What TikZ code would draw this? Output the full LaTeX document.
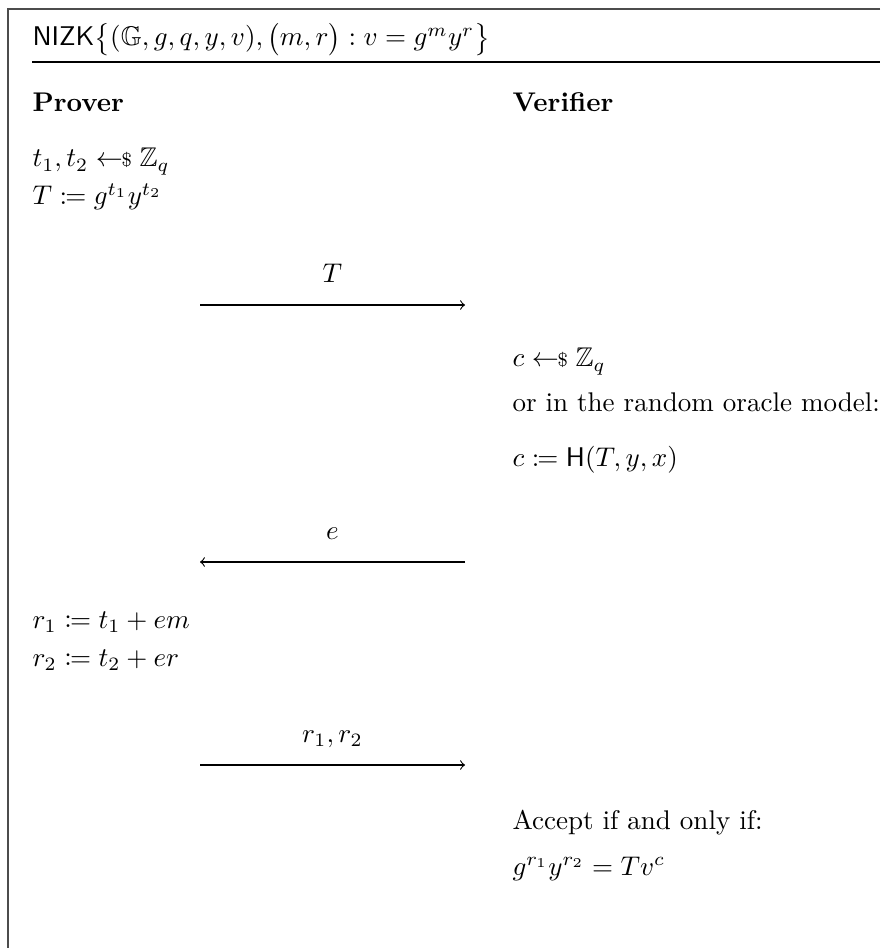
\documentclass[tikz,border=0pt]{standalone}
\usepackage{amssymb}
\usepackage{mathtools}
\usepackage{tikz}
\usetikzlibrary{positioning}

% estrazione casuale
\newcommand{\sampleR}{\mathrel{\leftarrow\!\!{\scriptstyle\$}}}

\begin{document}
\begin{tikzpicture}[
    x=0.37pt, y=-0.37pt,
    txt/.style={anchor=base west, inner sep=0pt},
    frame/.style={draw=black!70, line width=0.75pt},
    msg/.style={->, thin},
    lbl/.style={midway, above=3.6pt, text height=1.5ex, text depth=0.25ex}
]

    \useasboundingbox (0,0) rectangle (880,948);

    % Estremi delle frecce
    \def\xl{200}
    \def\xr{465}

    % 1. Cornice e titolo
    \coordinate (fTL) at (8,9);
    \coordinate (fTR) at (880,9);
    \coordinate (fBL) at (8,948);
    \draw[frame] (fTR) -- (fTL) -- (fBL);

    \node[txt] (title) at (32,46)
        {$\mathsf{NIZK}\bigl\{(\mathbb{G}, g, q, y, v), \bigl(m, r\bigr) : v = g^m y^r\bigr\}$};
    \coordinate (rL) at (32,62);
    \coordinate (rR) at (880,62);
    \draw[line width=0.5pt] (rL) -- (rR);

    % 2. Intestazioni
    \node[txt] (prover) at (32,112) {\textbf{Prover}};
    \node[txt] (verifier) at (512,112) {\textbf{Verifier}};

    % 3. Primo messaggio
    \node[txt] (p1) at (32,167) {$t_1, t_2 \sampleR \mathbb{Z}_q$};
    \node[txt] (p2) at (32,205) {$T \coloneqq g^{t_1} y^{t_2}$};

    \coordinate (m1a) at (\xl,305);
    \coordinate (m1b) at (\xr,305);
    \draw[msg] (m1a) -- (m1b) node[lbl] (lT) {$T$};

    % 4. Sfida
    \node[txt] (v1) at (512,367) {$c \sampleR \mathbb{Z}_q$};
    \node[txt] (v2) at (512,412) {or in the random oracle model:};
    \node[txt] (v3) at (512,467) {$c \coloneqq \mathsf{H}(T, y, x)$};

    \coordinate (m2a) at (\xr,562);
    \coordinate (m2b) at (\xl,562);
    \draw[msg] (m2a) -- (m2b) node[lbl] (le) {$e$};

    % 5. Risposta
    \node[txt] (p3) at (32,628) {$r_1 \coloneqq t_1 + em$};
    \node[txt] (p4) at (32,666) {$r_2 \coloneqq t_2 + er$};

    \coordinate (m3a) at (\xl,765);
    \coordinate (m3b) at (\xr,765);
    \draw[msg] (m3a) -- (m3b) node[lbl] (lr) {$r_1, r_2$};

    % 6. Verifica
    \node[txt] (v4) at (512,829) {Accept if and only if:};
    \node[txt] (v5) at (512,875) {$g^{r_1} y^{r_2} = T v^c$};

\end{tikzpicture}
\end{document}
